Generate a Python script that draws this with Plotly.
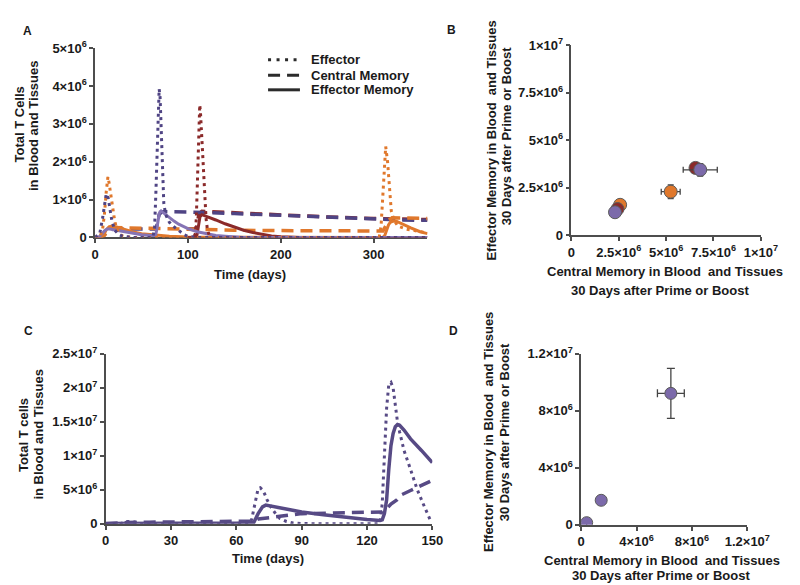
import plotly.graph_objects as go

W, H = 800, 585

# ---------------- Panel A data (values x 1e6) ----------------
a_pur_eff_t = [0, 5, 8, 10, 12, 14, 16, 18, 21, 25, 30, 40, 62, 64, 65.5, 67, 68, 69, 70, 71, 72, 73, 74, 76, 80, 84, 88, 92, 96, 100, 110, 358]
a_pur_eff_v = [0, 0.1, 0.5, 0.9, 1.15, 1.05, 0.75, 0.45, 0.2, 0.08, 0.03, 0, 0, 0.2, 1.2, 2.6, 3.4, 3.92, 3.7, 3.0, 2.2, 1.3, 0.9, 0.6, 0.4, 0.3, 0.22, 0.15, 0.07, 0.03, 0, 0]

a_ora_eff_t = [0, 5, 8, 10, 12, 13.8, 15, 17, 19, 21, 23, 26, 30, 40, 300, 306, 308, 310, 312, 313, 315, 317, 319, 322, 326, 335, 345, 358]
a_ora_eff_v = [0, 0, 0.2, 0.6, 1.2, 1.6, 1.45, 1.1, 0.75, 0.45, 0.25, 0.1, 0.03, 0, 0, 0, 0.3, 1.2, 2.2, 2.4, 2.0, 1.3, 0.7, 0.45, 0.3, 0.22, 0.17, 0.12]

a_mar_eff_t = [100, 106, 108, 109, 110, 111, 112, 112.7, 113.5, 114.5, 115.5, 116.5, 118, 119.5, 121, 123, 126, 358]
a_mar_eff_v = [0, 0, 0.1, 0.5, 1.3, 2.3, 3.2, 3.5, 3.3, 2.8, 2.2, 1.6, 1.0, 0.5, 0.2, 0.05, 0, 0]

a_pur_cm_t = [0, 5, 10, 15, 20, 30, 40, 50, 60, 66, 67, 69, 72, 80, 100, 150, 200, 250, 300, 330, 358]
a_pur_cm_v = [0, 0, 0.08, 0.18, 0.22, 0.22, 0.22, 0.22, 0.22, 0.22, 0.4, 0.6, 0.68, 0.68, 0.67, 0.63, 0.58, 0.53, 0.48, 0.46, 0.45]

a_ora_cm_t = [0, 5, 10, 15, 20, 40, 60, 80, 100, 150, 200, 250, 300, 310, 313, 316, 320, 340, 358]
a_ora_cm_v = [0, 0, 0.05, 0.2, 0.26, 0.25, 0.24, 0.22, 0.2, 0.19, 0.18, 0.18, 0.17, 0.17, 0.3, 0.45, 0.52, 0.5, 0.5]

a_mar_cm_t = [100, 109, 110, 112, 115, 150, 200, 250, 300, 358]
a_mar_cm_v = [0.22, 0.22, 0.4, 0.62, 0.69, 0.65, 0.59, 0.54, 0.5, 0.47]

a_pur_em_t = [0, 4, 7, 10, 13, 16, 20, 30, 40, 50, 60, 65, 66, 67, 68, 69, 70, 71, 73, 76, 80, 85, 90, 100, 110, 120, 130, 140, 150, 160, 358]
a_pur_em_v = [0, 0, 0.08, 0.17, 0.22, 0.22, 0.2, 0.15, 0.1, 0.07, 0.05, 0.05, 0.15, 0.35, 0.52, 0.62, 0.68, 0.7, 0.66, 0.6, 0.52, 0.43, 0.35, 0.23, 0.15, 0.09, 0.05, 0.03, 0.01, 0, 0]

a_ora_em_t = [0, 6, 9, 12, 15, 18, 22, 30, 40, 50, 60, 70, 80, 100, 300, 310, 312, 314, 316, 318, 321, 325, 330, 340, 350, 358]
a_ora_em_v = [0, 0, 0.05, 0.2, 0.28, 0.3, 0.28, 0.22, 0.15, 0.1, 0.07, 0.05, 0.03, 0.01, 0, 0, 0.05, 0.2, 0.33, 0.4, 0.43, 0.42, 0.36, 0.25, 0.15, 0.1]

a_mar_em_t = [100, 109, 110, 111, 112, 113, 115, 120, 130, 140, 150, 160, 170, 180, 190, 200, 220, 358]
a_mar_em_v = [0, 0, 0.1, 0.3, 0.45, 0.55, 0.6, 0.56, 0.46, 0.36, 0.27, 0.19, 0.13, 0.08, 0.04, 0.015, 0, 0]

a_xticks = [0, 100, 200, 300]
a_yticks = [0, 1e6, 2e6, 3e6, 4e6, 5e6]
a_yticktext = ["0", "1×10<sup>6</sup>", "2×10<sup>6</sup>", "3×10<sup>6</sup>", "4×10<sup>6</sup>", "5×10<sup>6</sup>"]

legend_names = ["Effector", "Central Memory", "Effector Memory"]

# ---------------- Panel B data ----------------
b_groups = ["orange", "maroon", "purple"]
b_cm_low = [2.57e6, 2.43e6, 2.30e6]
b_em_low = [1.61e6, 1.39e6, 1.22e6]
b_cm_high = [5.24e6, 6.55e6, 6.80e6]
b_em_high = [2.30e6, 3.55e6, 3.45e6]
b_cm_err = [0.50e6, 0.25e6, 0.90e6]
b_em_err = [0.36e6, 0.25e6, 0.33e6]
b_ticks = [0, 2.5e6, 5e6, 7.5e6, 1e7]
b_ticktext = ["0", "2.5×10<sup>6</sup>", "5×10<sup>6</sup>", "7.5×10<sup>6</sup>", "1×10<sup>7</sup>"]

# ---------------- Panel C data (values x 1e6) ----------------
c_eff_t = [0, 6, 8, 10, 12, 14, 16, 20, 40, 60, 65, 66, 67, 68, 69, 70, 71, 72, 73, 74, 76, 78, 80, 83, 86, 90, 100, 110, 120, 125, 126, 127, 128, 129, 130, 131, 132, 133, 134, 135, 137, 140, 143, 146, 149, 150]
c_eff_v = [0, 0, 0.15, 0.35, 0.35, 0.15, 0.05, 0, 0, 0, 0, 0.05, 0.6, 2.2, 4.0, 5.2, 5.3, 5.0, 4.4, 3.6, 2.4, 1.5, 0.8, 0.35, 0.12, 0.05, 0, 0, 0, 0, 0.2, 3, 10, 17, 20.5, 20.8, 20, 17.5, 15, 13.5, 10.8, 8, 5.1, 2.8, 0.6, 0.4]

c_cm_t = [0, 5, 10, 20, 40, 60, 68, 70, 73, 80, 90, 100, 110, 120, 127, 129, 131, 133.7, 136, 140, 145, 150]
c_cm_v = [0, 0.1, 0.2, 0.25, 0.3, 0.35, 0.4, 0.7, 0.8, 1.1, 1.5, 1.6, 1.65, 1.7, 1.75, 2.2, 2.9, 3.5, 4.3, 4.9, 5.7, 6.4]

c_em_t = [0, 10, 30, 60, 66, 68, 70, 72, 73.5, 76, 80, 90, 100, 110, 120, 126, 127, 128, 129, 130, 131, 132, 133, 134, 135, 137, 140, 145, 150]
c_em_v = [0.05, 0.1, 0.1, 0.1, 0.12, 0.2, 1.5, 2.5, 2.75, 2.6, 2.4, 1.75, 1.35, 0.95, 0.65, 0.5, 0.6, 1.5, 3.5, 8, 11.5, 13.3, 14.3, 14.6, 14.5, 13.8, 12.5, 10.8, 9.0]

c_xticks = [0, 30, 60, 90, 120, 150]
c_yticks = [0, 5e6, 1e7, 1.5e7, 2e7, 2.5e7]
c_yticktext = ["0", "5×10<sup>6</sup>", "1×10<sup>7</sup>", "1.5×10<sup>7</sup>", "2×10<sup>7</sup>", "2.5×10<sup>7</sup>"]

# ---------------- Panel D data ----------------
d_cm = [0.4e6, 1.45e6, 6.48e6]
d_em = [0.15e6, 1.72e6, 9.23e6]
d_cm_err = [0, 0, 0.97e6]
d_em_err = [0, 0, 1.75e6]
d_ticks = [0, 4e6, 8e6, 1.2e7]
d_ticktext = ["0", "4×10<sup>6</sup>", "8×10<sup>6</sup>", "1.2×10<sup>7</sup>"]

# ---------------- styling ----------------
PUR_D = "#4f4484"
LAV = "#8574b5"
ORA = "#e0782c"
MAR = "#8b2a2a"
CPUR = "#574a85"
MPUR = "#7c6aaa"
AX = "#4d4d4d"
TXT = "#1a1a1a"
FONT = "Liberation Sans, Arial, sans-serif"
DOT = "3px,4px"
DASH = "12px,7px"


def px_x(p):
    return p / W


def px_y(p):
    return 1 - p / H


def scale(v):
    return [x * 1e6 for x in v]


fig = go.Figure()


def line(t, v, color, dash, width, xa, ya):
    fig.add_trace(go.Scatter(x=t, y=scale(v), mode="lines",
                             line=dict(color=color, dash=dash, width=width),
                             xaxis=xa, yaxis=ya, showlegend=False, hoverinfo="skip"))


# Panel A
line(a_mar_cm_t, a_mar_cm_v, MAR, DASH, 3.5, "x", "y")
line(a_pur_cm_t, a_pur_cm_v, PUR_D, DASH, 3.5, "x", "y")
line(a_ora_cm_t, a_ora_cm_v, ORA, DASH, 3.5, "x", "y")
line(a_ora_em_t, a_ora_em_v, ORA, "solid", 3, "x", "y")
line(a_mar_em_t, a_mar_em_v, MAR, "solid", 3, "x", "y")
line(a_pur_em_t, a_pur_em_v, LAV, "solid", 3, "x", "y")
line(a_ora_eff_t, a_ora_eff_v, ORA, DOT, 3, "x", "y")
line(a_mar_eff_t, a_mar_eff_v, MAR, DOT, 3, "x", "y")
line(a_pur_eff_t, a_pur_eff_v, PUR_D, DOT, 3, "x", "y")

# Panel B
b_colors = [ORA, MAR, MPUR]
for i in range(3):
    fig.add_trace(go.Scatter(x=[b_cm_low[i]], y=[b_em_low[i]], mode="markers",
                             marker=dict(size=13, color=b_colors[i], line=dict(color="#5a5a5a", width=1)),
                             xaxis="x2", yaxis="y2", showlegend=False))
for i in range(3):
    fig.add_trace(go.Scatter(x=[b_cm_high[i]], y=[b_em_high[i]], mode="markers",
                             marker=dict(size=13, color=b_colors[i], line=dict(color="#5a5a5a", width=1)),
                             error_x=dict(type="data", array=[b_cm_err[i]], color="#444", thickness=1.3, width=3),
                             error_y=dict(type="data", array=[b_em_err[i]], color="#444", thickness=1.3, width=3),
                             xaxis="x2", yaxis="y2", showlegend=False))

# Panel C
line(c_cm_t, c_cm_v, CPUR, DASH, 3.5, "x3", "y3")
line(c_em_t, c_em_v, CPUR, "solid", 3.5, "x3", "y3")
line(c_eff_t, c_eff_v, CPUR, DOT, 3, "x3", "y3")

# Panel D
fig.add_trace(go.Scatter(x=d_cm, y=d_em, mode="markers",
                         marker=dict(size=12, color=MPUR, line=dict(color="#5a5a5a", width=1)),
                         error_x=dict(type="data", array=d_cm_err, color="#444", thickness=1.3, width=4),
                         error_y=dict(type="data", array=d_em_err, color="#444", thickness=1.3, width=4),
                         xaxis="x4", yaxis="y4", showlegend=False))

tickfont = dict(family=FONT, size=13, color=TXT, weight=700)


def axis(domain, rng, tickvals, ticktext, anchor):
    return dict(domain=domain, range=rng, tickvals=tickvals, ticktext=ticktext,
                showline=True, linecolor=AX, linewidth=1.5, ticks="outside",
                ticklen=4, tickwidth=1.5, tickcolor=AX, showgrid=False, zeroline=False,
                tickfont=tickfont, anchor=anchor, layer="below traces", fixedrange=True)


layout = dict(
    width=W, height=H, margin=dict(l=0, r=0, t=0, b=0),
    paper_bgcolor="white", plot_bgcolor="white", showlegend=False,
    xaxis=axis([px_x(86), px_x(430)], [0, 358], a_xticks, [str(v) for v in a_xticks], "y"),
    yaxis=axis([px_y(227), px_y(32)], [0, 5e6], a_yticks, a_yticktext, "x"),
    xaxis2=axis([px_x(579), px_x(775)], [0, 1e7], b_ticks, b_ticktext, "y2"),
    yaxis2=axis([px_y(225), px_y(29)], [0, 1e7], b_ticks, b_ticktext, "x2"),
    xaxis3=axis([px_x(97), px_x(435)], [0, 150], c_xticks, [str(v) for v in c_xticks], "y3"),
    yaxis3=axis([px_y(522), px_y(347)], [0, 2.5e7], c_yticks, c_yticktext, "x3"),
    xaxis4=axis([px_x(589), px_x(761)], [0, 1.2e7], d_ticks, d_ticktext, "y4"),
    yaxis4=axis([px_y(523), px_y(347)], [0, 1.2e7], d_ticks, d_ticktext, "x4"),
)
fig.update_layout(**layout)

tfont = dict(family=FONT, size=13, color=TXT, weight=700)
lfont = dict(family=FONT, size=12, color=TXT, weight=700)


def ann(text, x, y, angle=0, font=tfont, xanchor="center"):
    fig.add_annotation(text=text, x=px_x(x), y=px_y(y), xref="paper", yref="paper",
                       showarrow=False, textangle=angle, font=font,
                       xanchor=xanchor, yanchor="middle", align="center")


# manual legend for panel A
legend_dashes = ["3px,5.5px", "12px,7px", "solid"]
legend_rows = [44, 60, 75]
for name, dash, row in zip(legend_names, legend_dashes, legend_rows):
    fig.add_shape(type="line", xref="paper", yref="paper",
                  x0=px_x(265), x1=px_x(298), y0=px_y(row), y1=px_y(row),
                  line=dict(color="#2b2b2b", width=3, dash=dash))
    ann(name, 307, row, xanchor="left")

# panel letters
ann("A", 16, 14, font=lfont)
ann("B", 455, 13, font=lfont)
ann("C", 17, 323, font=lfont)
ann("D", 457, 323, font=lfont)

# axis titles (one annotation per line)
ann("Total T Cells", 8, 111, -90)
ann("in Blood and Tissues", 22, 112, -90)
ann("Time (days)", 246, 265)

ann("Effector Memory in Blood  and Tissues", 496, 127, -90)
ann("30 Days after Prime or Boost", 512, 123, -90)
ann("Central Memory in Blood  and Tissues", 676, 262)
ann("30 Days after Prime or Boost", 671, 282)

ann("Total T cells", 12, 431, -90)
ann("in Blood and Tissues", 27, 430, -90)
ann("Time (days)", 265, 558)

ann("Effector Memory in Blood  and Tissues", 493, 427, -90)
ann("30 Days after Prime or Boost", 510, 428, -90)
ann("Central Memory in Blood  and Tissues", 673, 560)
ann("30 Days after Prime or Boost", 672, 575)

fig.write_html("out.html")
